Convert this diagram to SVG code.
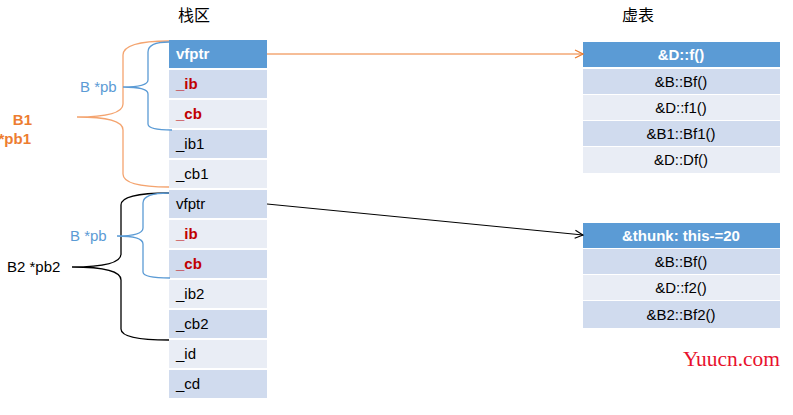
<svg xmlns="http://www.w3.org/2000/svg" width="793" height="415" viewBox="0 0 793 415">
<style>
.t{font-family:"Liberation Sans",Arial,sans-serif;font-size:15px;fill:#000}
.c{text-anchor:middle}
.b{font-weight:bold}
.w{fill:#fff}
.r{fill:#C00000;font-weight:bold}
.d{fill:#D0DBEE}
.l{fill:#E9EDF5}
.h{fill:#5B9BD5}
.br{fill:none;stroke-width:1.3}
</style>
<defs>
<marker id="ao" markerWidth="10" markerHeight="10" refX="9" refY="5" orient="auto" markerUnits="userSpaceOnUse"><path d="M1,1 L9,5 L1,9" fill="none" stroke="#ED7D31" stroke-width="1.2"/></marker>
<marker id="ak" markerWidth="10" markerHeight="10" refX="9" refY="5" orient="auto" markerUnits="userSpaceOnUse"><path d="M1,1 L9,5 L1,9" fill="none" stroke="#000" stroke-width="1.2"/></marker>
</defs>
<rect width="793" height="415" fill="#fff"/>
<text x="194" y="21" class="t c" style="font-family:'Noto Sans CJK SC',sans-serif;font-size:16px">栈区</text>
<text x="638" y="21" class="t c" style="font-family:'Noto Sans CJK SC',sans-serif;font-size:16px">虚表</text>
<g id="stack">
<rect x="169" y="40" width="98" height="28" class="h"/><text x="176" y="59" class="t b w">vfptr</text>
<rect x="169" y="70" width="98" height="28" class="d"/><text x="176" y="89" class="t r">_ib</text>
<rect x="169" y="100" width="98" height="28" class="l"/><text x="176" y="119" class="t r">_cb</text>
<rect x="169" y="130" width="98" height="28" class="d"/><text x="176" y="149" class="t">_ib1</text>
<rect x="169" y="160" width="98" height="28" class="l"/><text x="176" y="179" class="t">_cb1</text>
<rect x="169" y="190" width="98" height="28" class="d"/><text x="176" y="209" class="t">vfptr</text>
<rect x="169" y="220" width="98" height="28" class="l"/><text x="176" y="239" class="t r">_ib</text>
<rect x="169" y="250" width="98" height="28" class="d"/><text x="176" y="269" class="t r">_cb</text>
<rect x="169" y="280" width="98" height="28" class="l"/><text x="176" y="299" class="t">_ib2</text>
<rect x="169" y="310" width="98" height="28" class="d"/><text x="176" y="329" class="t">_cb2</text>
<rect x="169" y="340" width="98" height="28" class="l"/><text x="176" y="359" class="t">_id</text>
<rect x="169" y="370" width="98" height="28" class="d"/><text x="176" y="389" class="t">_cd</text>
</g>
<g id="vtable1">
<rect x="583" y="42" width="197" height="25" class="h"/><text x="681" y="60" class="t c b w">&amp;D::f()</text>
<rect x="583" y="69" width="197" height="25" class="d"/><text x="681" y="87" class="t c">&amp;B::Bf()</text>
<rect x="583" y="95" width="197" height="25" class="l"/><text x="681" y="113" class="t c">&amp;D::f1()</text>
<rect x="583" y="121" width="197" height="25" class="d"/><text x="681" y="139" class="t c">&amp;B1::Bf1()</text>
<rect x="583" y="147" width="197" height="26" class="l"/><text x="681" y="165" class="t c">&amp;D::Df()</text>
</g>
<g id="vtable2">
<rect x="583" y="223" width="197" height="25" class="h"/><text x="681" y="241" class="t c b w">&amp;thunk: this-=20</text>
<rect x="583" y="249" width="197" height="25" class="d"/><text x="681" y="267" class="t c">&amp;B::Bf()</text>
<rect x="583" y="275" width="197" height="25" class="l"/><text x="681" y="293" class="t c">&amp;D::f2()</text>
<rect x="583" y="301" width="197" height="27" class="d"/><text x="681" y="320" class="t c">&amp;B2::Bf2()</text>
</g>
<g id="labels">
<text x="32" y="125" class="t b" style="fill:#ED7D31;font-size:15px;text-anchor:end">B1</text>
<text x="31" y="144" class="t b" style="fill:#ED7D31;font-size:15px;text-anchor:end">*pb1</text>
<text x="80" y="92" class="t" style="fill:#5B9BD5;font-size:15px">B *pb</text>
<text x="70" y="241" class="t" style="fill:#5B9BD5;font-size:15px">B *pb</text>
<text x="7" y="272" class="t" style="font-size:15px">B2 *pb2</text>
<text x="683" y="366" textLength="97" lengthAdjust="spacingAndGlyphs" style="font-family:'Liberation Serif',serif;font-size:20px;fill:#E8112D">Yuucn.com</text>
</g>
<g id="connectors">
<path class="br" stroke="#F4A46F" d="M169,41 Q123,41 123,55 L123,104 Q123,117 77,117 Q123,117 123,130 L123,174 Q123,187 169,187"/>
<path class="br" stroke="#5B9BD5" d="M169,42 Q148,42 148,52 L148,80 Q148,87 123,87 Q148,87 148,94 L148,124 Q148,130 172,130"/>
<path class="br" stroke="#000" d="M169,193 Q121,193 121,205 L121,254 Q121,267 72,267 Q121,267 121,280 L121,329 Q121,340 169,340"/>
<path class="br" stroke="#5B9BD5" d="M169,193 Q143,193 143,203 L143,228 Q143,236 117,236 Q143,236 143,244 L143,272 Q143,278 170,278"/>
<line x1="267" y1="54" x2="583" y2="54" stroke="#ED7D31" stroke-width="1" marker-end="url(#ao)"/>
<line x1="267" y1="204" x2="583" y2="235" stroke="#000" stroke-width="1" marker-end="url(#ak)"/>
</g>
</svg>
